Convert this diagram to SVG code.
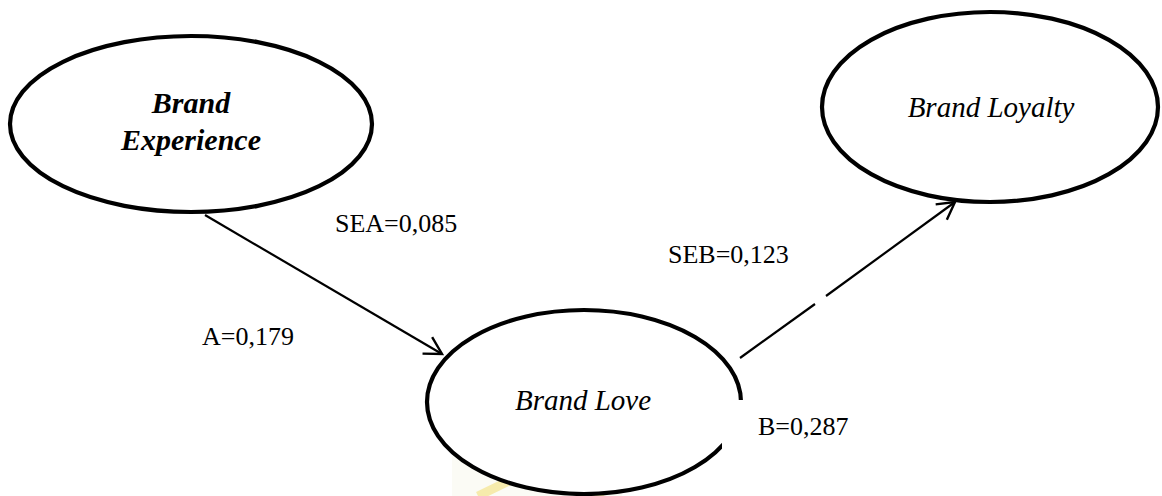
<svg xmlns="http://www.w3.org/2000/svg" width="1162" height="496" viewBox="0 0 1162 496">
  <style>
    .node { fill: #ffffff; stroke: #000000; stroke-width: 4.2; }
    .lbl { font-family: "Liberation Serif", "Times New Roman", serif; font-size: 26px; fill: #000000; }
    .nt { font-family: "Liberation Serif", "Times New Roman", serif; font-style: italic; font-size: 29px; fill: #000000; text-anchor: middle; }
    .nb { font-weight: bold; font-size: 30px; }
    .edge { stroke: #000000; stroke-width: 2.2; fill: none; }
  </style>
  <defs>
    <marker id="arr" markerUnits="userSpaceOnUse" markerWidth="24" markerHeight="24" viewBox="-20 -12 24 24" refX="0" refY="0" orient="auto">
      <path d="M -17 -9.5 L 0 0 L -17 9.5" fill="none" stroke="#000000" stroke-width="2.4"/>
    </marker>
  </defs>
  <rect width="1162" height="496" fill="#ffffff"/>
  <g id="watermark" opacity="0.55">
    <rect x="452" y="456" width="170" height="40" fill="#f8f8ee"/>
    <polyline points="478,496 540,466 604,496" fill="none" stroke="#f0dc6a" stroke-width="9"/>
  </g>
  <g id="brand-experience">
    <ellipse class="node" cx="191" cy="124" rx="181" ry="88"/>
    <text class="nt nb" x="191" y="113">Brand</text>
    <text class="nt nb" x="191" y="150">Experience</text>
  </g>
  <g id="brand-loyalty">
    <ellipse class="node" cx="990" cy="107" rx="168" ry="95"/>
    <text class="nt" x="991" y="117">Brand Loyalty</text>
  </g>
  <g id="brand-love">
    <ellipse class="node" cx="584" cy="402" rx="157" ry="92"/>
    <text class="nt" x="583" y="410">Brand Love</text>
  </g>
  <g id="connectors">
    <line class="edge" x1="205" y1="215" x2="442" y2="354" marker-end="url(#arr)"/>
    <line class="edge" x1="740" y1="358" x2="815" y2="304"/>
    <line class="edge" x1="826" y1="296" x2="955" y2="202" marker-end="url(#arr)"/>
    <text class="lbl" x="335" y="232">SEA=0,085</text>
    <text class="lbl" x="202" y="345">A=0,179</text>
    <text class="lbl" x="668" y="263">SEB=0,123</text>
    <rect x="722" y="400" width="140" height="55" fill="#ffffff"/>
    <text class="lbl" x="758" y="435">B=0,287</text>
  </g>
</svg>
